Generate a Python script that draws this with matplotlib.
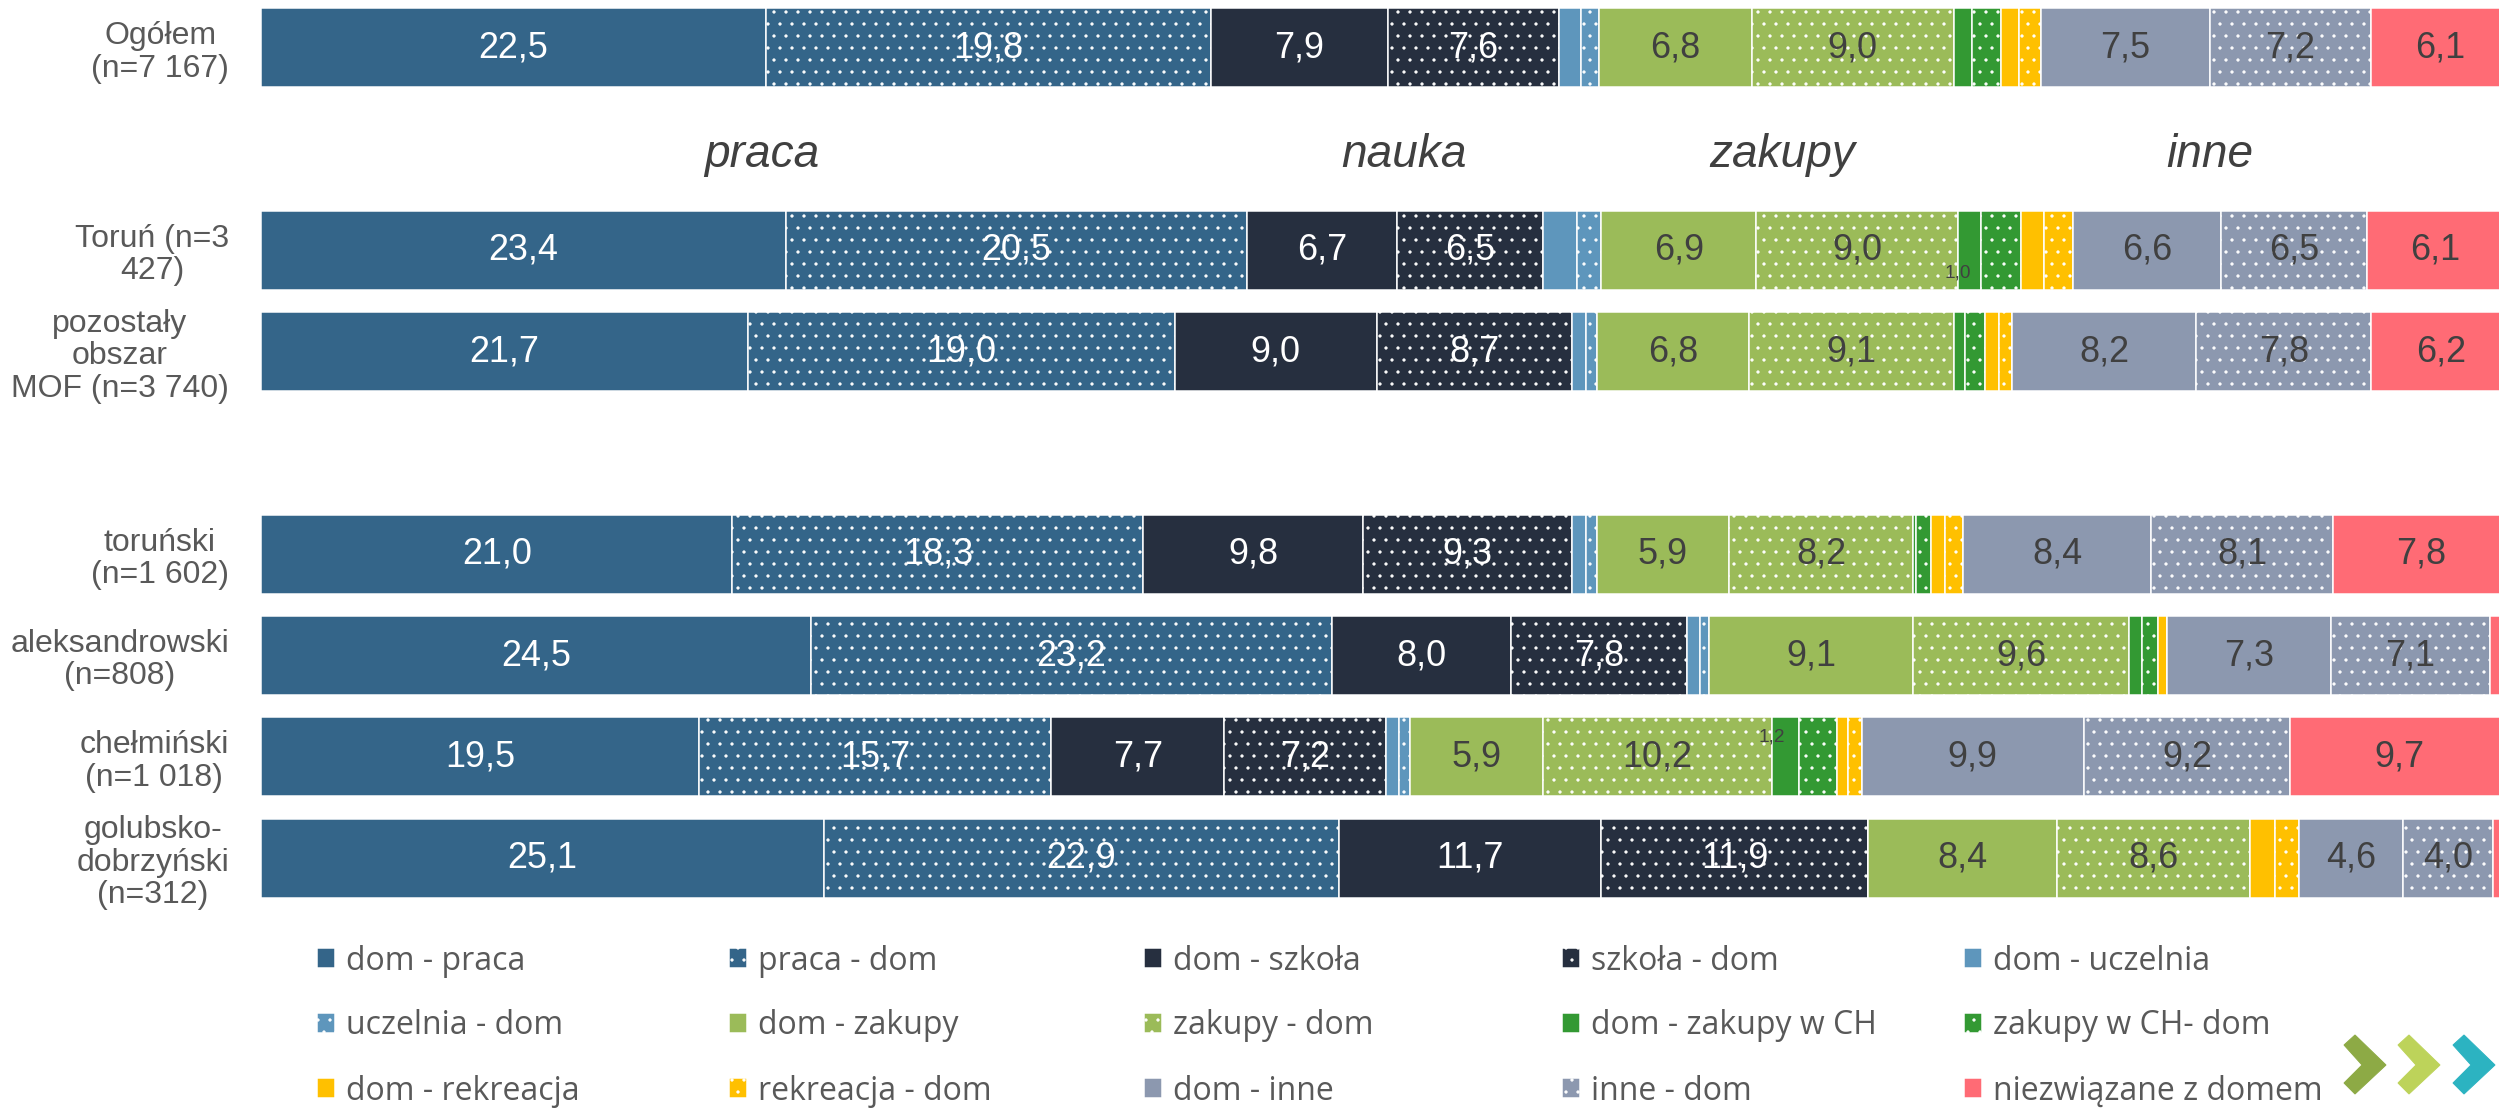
import matplotlib.pyplot as plt
from matplotlib.patches import Polygon

plt.rcParams['font.family'] = ['Liberation Sans', 'DejaVu Sans']
plt.rcParams['hatch.linewidth'] = 0.8

# wiersze wykresu (gora -> dol)
rows = ["Ogółem\n(n=7 167)", "Toruń (n=3\n427)", "pozostały\nobszar\nMOF (n=3 740)",
        "toruński\n(n=1 602)", "aleksandrowski\n(n=808)", "chełmiński\n(n=1 018)",
        "golubsko-\ndobrzyński\n(n=312)"]
row_pos = [0, 2, 3, 5, 6, 7, 8]

# udzialy [%] kolejno dla wierszy
dom_praca     = [22.5, 23.4, 21.7, 21.0, 24.5, 19.5, 25.1]
praca_dom     = [19.8, 20.5, 19.0, 18.3, 23.2, 15.7, 22.9]
dom_szkola    = [7.9, 6.7, 9.0, 9.8, 8.0, 7.7, 11.7]
szkola_dom    = [7.6, 6.5, 8.7, 9.3, 7.8, 7.2, 11.9]
dom_uczelnia  = [1.0, 1.5, 0.6, 0.6, 0.6, 0.6, 0.0]
uczelnia_dom  = [0.8, 1.1, 0.5, 0.5, 0.4, 0.5, 0.0]
dom_zakupy    = [6.8, 6.9, 6.8, 5.9, 9.1, 5.9, 8.4]
zakupy_dom    = [9.0, 9.0, 9.1, 8.2, 9.6, 10.2, 8.6]
dom_zakupy_ch = [0.8, 1.0, 0.5, 0.1, 0.6, 1.2, 0.0]
zakupy_ch_dom = [1.3, 1.8, 0.9, 0.7, 0.7, 1.7, 0.0]
dom_rekreacja = [0.8, 1.0, 0.6, 0.6, 0.4, 0.5, 1.1]
rekreacja_dom = [1.0, 1.3, 0.6, 0.8, 0.0, 0.6, 1.1]
dom_inne      = [7.5, 6.6, 8.2, 8.4, 7.3, 9.9, 4.6]
inne_dom      = [7.2, 6.5, 7.8, 8.1, 7.1, 9.2, 4.0]
niezwiazane   = [6.1, 6.1, 6.2, 7.8, 5.5, 9.7, 5.0]

series = ["dom - praca", "praca - dom", "dom - szkoła", "szkoła - dom", "dom - uczelnia",
          "uczelnia - dom", "dom - zakupy", "zakupy - dom", "dom - zakupy w CH", "zakupy w CH- dom",
          "dom - rekreacja", "rekreacja - dom", "dom - inne", "inne - dom", "niezwiązane z domem"]
data = [dom_praca, praca_dom, dom_szkola, szkola_dom, dom_uczelnia, uczelnia_dom,
        dom_zakupy, zakupy_dom, dom_zakupy_ch, zakupy_ch_dom, dom_rekreacja, rekreacja_dom,
        dom_inne, inne_dom, niezwiazane]
colors = ["#346589", "#346589", "#262F3F", "#262F3F", "#5E96BC", "#5E96BC",
          "#9BBB59", "#9BBB59", "#339933", "#339933", "#FFC000", "#FFC000",
          "#8C98AF", "#8C98AF", "#FF6B75"]
dotted = [k % 2 == 1 for k in range(14)] + [False]
white_txt = [True] * 4 + [False] * 11

groups = ["praca", "nauka", "zakupy", "inne"]
group_x = [22.3, 50.9, 67.75, 86.8]

# male etykiety: (wiersz, seria, przesuniecie w pionie)
small_labels = [(1, 8, 0.22), (5, 8, -0.2)]

DPI = 72
W, H = 2499, 1113
fig = plt.figure(figsize=(W / DPI, H / DPI), dpi=DPI)
ax = fig.add_axes([261 / W, (H - 908.7) / H, 2245 / W, 911.4 / H])

left = [0.0] * len(rows)
handles = []
for k in range(len(series)):
    vals = data[k]
    b = ax.barh(row_pos, vals, left=left, height=0.78, color=colors[k],
                edgecolor="white", linewidth=1.5, hatch="." if dotted[k] else None,
                label=series[k])
    handles.append(b)
    for i, v in enumerate(vals):
        xc = left[i] + v / 2
        if v >= 3 and xc < 100:
            ax.text(xc, row_pos[i], f"{v:.1f}".replace(".", ","), ha="center", va="center",
                    fontsize=36, color="white" if white_txt[k] else "#404040")
    for (ri, si, dy) in small_labels:
        if si == k:
            ax.text(left[ri], row_pos[ri] + dy, f"{vals[ri]:.1f}".replace(".", ","),
                    ha="center", va="center", fontsize=19, color="#404040")
    left = [l + v for l, v in zip(left, vals)]

for g, gx in zip(groups, group_x):
    ax.text(gx, 1.18, g, fontsize=46, style="italic", color="#404040", ha="center", va="baseline")

ax.set_xlim(0, 100)
ax.set_ylim(8.5, -0.5)
ax.set_xticks([])
ax.set_yticks(row_pos, rows, fontsize=32, color="#595959")
for lbl in ax.get_yticklabels():
    lbl.set_multialignment("center")
    lbl.set_linespacing(1.1)
ax.tick_params(axis="y", length=0, pad=32)
for s in ax.spines.values():
    s.set_visible(False)

# legenda: 5 kolumn po 3 wpisy
col_x = [317, 729, 1144, 1562, 1964]
for c in range(5):
    idx = [c + 5 * r for r in range(3)]
    fig.legend([handles[i] for i in idx], [series[i] for i in idx], loc="center left",
               bbox_to_anchor=(col_x[c] / W, 1 - 1026 / H), frameon=False, borderpad=0,
               borderaxespad=0, handlelength=0.56, handleheight=0.56, handletextpad=0.35,
               labelspacing=1.0, prop={"family": "Open Sans", "size": 32}, labelcolor="#595959")

# logo - trzy strzalki
chev = [(0, 1045), (11, 1035), (42, 1065), (11, 1094), (0, 1083), (18, 1065)]
for x0, col in zip([2344, 2398, 2453], ["#8DAA45", "#BDD35A", "#2CB3C1"]):
    pts = [((x0 + dx) / W, 1 - y / H) for dx, y in chev]
    fig.add_artist(Polygon(pts, closed=True, color=col, transform=fig.transFigure))

fig.savefig("out.png", dpi=DPI)
